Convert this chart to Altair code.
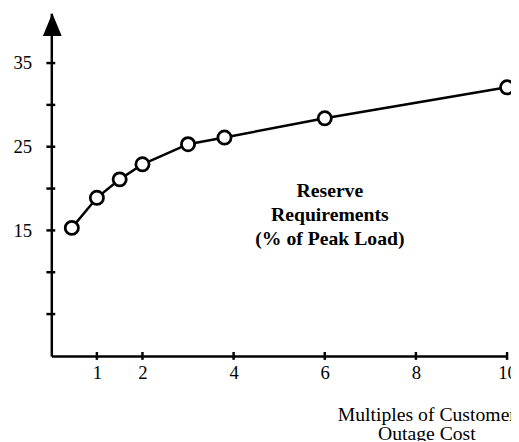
import altair as alt
import pandas as pd

# ---- data ----
multiples = [0.45, 1.0, 1.5, 2.0, 3.0, 3.8, 6.0, 10.0]
reserve = [15.3, 18.9, 21.1, 22.9, 25.3, 26.1, 28.4, 32.1]
x_ticks = [1, 2, 4, 6, 8, 10]
y_ticks = [5, 10, 15, 20, 25, 30, 35]
y_labels = [15, 25, 35]
note = ["Reserve", "Requirements", "(% of Peak Load)"]
x_title = ["Multiples of Customer", "Outage Cost"]

df = pd.DataFrame({"m": multiples, "r": reserve})
W, H = 463, 348
FONT = "Liberation Serif"

xs = alt.Scale(domain=[0, 10], nice=False, zero=False)
ys = alt.Scale(domain=[0, 40.94], nice=False)

x_axis = alt.Axis(
    values=x_ticks, ticks=False, labelPadding=8, labelFont=FONT, labelFontSize=19,
    labelColor="black", labelOverlap=False, labelFlush=False,
    domainColor="black", domainWidth=2.5, grid=False,
    title=x_title, titleFont=FONT, titleFontSize=20, titleFontWeight="normal",
    titleX=381, titleY=66, titleBaseline="alphabetic", titleAlign="center",
    titleLineHeight=19, titleColor="black",
)
label_expr = "indexof(" + str(y_labels) + ", datum.value) >= 0 ? datum.label : ''"
y_axis = alt.Axis(
    values=y_ticks, ticks=False, labelPadding=20, labelFont=FONT, labelFontSize=19,
    labelColor="black", labelOverlap=False, labelFlush=False, labelExpr=label_expr,
    domainColor="black", domainWidth=2.5, grid=False, title=None,
)

base = alt.Chart(df).encode(
    x=alt.X("m:Q", scale=xs, axis=x_axis),
    y=alt.Y("r:Q", scale=ys, axis=y_axis),
)
line = base.mark_line(color="black", strokeWidth=2.5)
points = base.mark_point(shape="circle", size=180, filled=True, fill="white",
                         stroke="black", strokeWidth=2.8, opacity=1)

yticks = alt.Chart(pd.DataFrame({"r": y_ticks})).mark_rule(
    color="black", strokeWidth=2.5
).encode(y=alt.Y("r:Q", scale=ys, axis=y_axis), x=alt.value(-5), x2=alt.value(4))

xticks = alt.Chart(pd.DataFrame({"m": x_ticks})).mark_rule(
    color="black", strokeWidth=2.5
).encode(x=alt.X("m:Q", scale=xs, axis=x_axis), y=alt.value(H - 4), y2=alt.value(H + 4))

arrow = alt.Chart(pd.DataFrame({"a": [0]})).mark_point(
    shape="M0,-1L0.83,1L-0.83,1Z", size=529, filled=True, fill="black",
    strokeWidth=0, opacity=1
).encode(x=alt.value(1), y=alt.value(11.5))

note_layer = alt.Chart(pd.DataFrame({"a": [0]})).mark_text(
    text=note, font=FONT, fontSize=20, fontWeight="bold", lineHeight=24,
    align="center", baseline="alphabetic", color="black"
).encode(x=alt.value(283), y=alt.value(187))

chart = alt.layer(line, points, yticks, xticks, note_layer, arrow).properties(
    width=W, height=H,
    padding={"left": 44, "top": 2, "right": 4, "bottom": 83},
    autosize=alt.AutoSizeParams(type="none"),
    background="white",
).configure_view(strokeWidth=0)

chart.save("out.html", embed_options={"renderer": "svg", "actions": False})
